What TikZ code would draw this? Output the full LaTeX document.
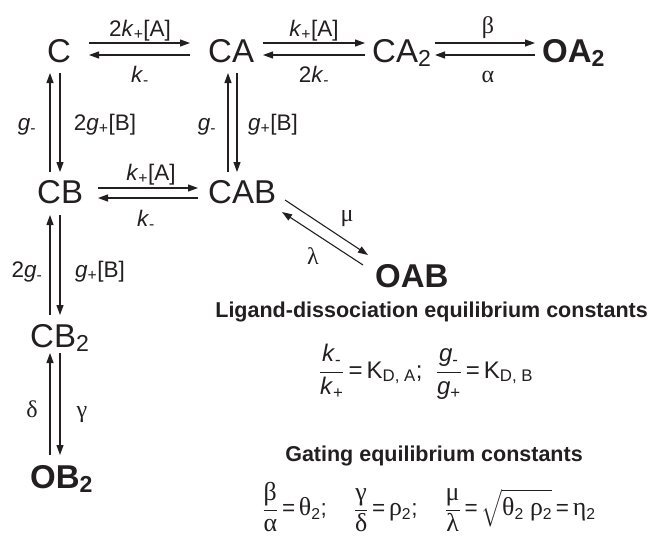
\RequirePackage{fix-cm}
\documentclass[tikz,border=0pt]{standalone}
\usepackage{amsmath}
\usepackage{fontspec}
\setmainfont{Liberation Sans}
\newfontfamily\grk{Liberation Serif}
\usetikzlibrary{arrows.meta}
\definecolor{ink}{HTML}{231F20}
\newcommand\kP{\textit{k}\textsubscript{+}}
\newcommand\kM{\textit{k}\textsubscript{-}}
\newcommand\gP{\textit{g}\textsubscript{+}}
\newcommand\gM{\textit{g}\textsubscript{-}}
\newcommand\gk[1]{{\grk\fontsize{1.15em}{1em}\selectfont #1}}
\begin{document}
\begin{tikzpicture}[x=1pt,y=-1pt,
  sp/.style={anchor=base west, inner sep=0pt, text=ink, font=\fontsize{33}{38}\selectfont},
  spb/.style={sp, font=\fontsize{33}{38}\selectfont\bfseries},
  rl/.style={anchor=base, inner sep=0pt, text=ink, font=\fontsize{22.5}{26}\selectfont},
  gl/.style={anchor=base, inner sep=0pt, text=ink, font=\fontsize{24}{28}\selectfont\grk},
  hd/.style={anchor=base, inner sep=0pt, text=ink, font=\fontsize{21.5}{25}\selectfont\bfseries},
  eq/.style={anchor=center, inner sep=0pt, text=ink, font=\fontsize{24}{28}\selectfont},
  arr/.style={draw=ink, line width=1.1pt, -{Triangle[length=10pt,width=7pt]}}]
\useasboundingbox (0,0) rectangle (653,536);
% species
\node[sp]  (C)   at (47,62)  {C};
\node[sp]  (CA)  at (208,62) {CA};
\node[sp]  (CA2) at (372,62) {CA\textsubscript{2}};
\node[spb] (OA2) at (542,62) {OA\textsubscript{2}};
\node[sp]  (CB)  at (37,203) {CB};
\node[sp]  (CAB) at (208,203) {CAB};
\node[spb] (OAB) at (375,287) {OAB};
\node[sp]  (CB2) at (30,347) {CB\textsubscript{2}};
\node[spb] (OB2) at (30,488) {OB\textsubscript{2}};
% horizontal pairs
\draw[arr] ([shift={(42,-19)}]C.base west) -- ([shift={(-18,-19)}]CA.base west);
\draw[arr] ([shift={(-18,-7)}]CA.base west) -- ([shift={(42,-7)}]C.base west);
\draw[arr] ([shift={(55,-19)}]CA.base west) -- ([shift={(-7,-19)}]CA2.base west);
\draw[arr] ([shift={(-7,-7)}]CA2.base west) -- ([shift={(55,-7)}]CA.base west);
\draw[arr] ([shift={(63,-19)}]CA2.base west) -- ([shift={(-7,-19)}]OA2.base west);
\draw[arr] ([shift={(-7,-7)}]OA2.base west) -- ([shift={(63,-7)}]CA2.base west);
\draw[arr] ([shift={(61,-15)}]CB.base west) -- ([shift={(-10,-15)}]CAB.base west);
\draw[arr] ([shift={(-10,-5)}]CAB.base west) -- ([shift={(61,-5)}]CB.base west);
% vertical pairs
\draw[arr] ([shift={(13,-31)}]CB.base west) -- ([shift={(3,11)}]C.base west);
\draw[arr] ([shift={(13,11)}]C.base west) -- ([shift={(23,-31)}]CB.base west);
\draw[arr] ([shift={(20,-31)}]CAB.base west) -- ([shift={(20,11)}]CA.base west);
\draw[arr] ([shift={(29,11)}]CA.base west) -- ([shift={(29,-31)}]CAB.base west);
\draw[arr] ([shift={(20,-32)}]CB2.base west) -- ([shift={(13,12)}]CB.base west);
\draw[arr] ([shift={(23,12)}]CB.base west) -- ([shift={(30,-32)}]CB2.base west);
\draw[arr] ([shift={(20,-33)}]OB2.base west) -- ([shift={(20,6)}]CB2.base west);
\draw[arr] ([shift={(30,6)}]CB2.base west) -- ([shift={(30,-33)}]OB2.base west);
% diagonal pair
\draw[arr] ([shift={(77,-3)}]CAB.base west) -- ([shift={(-7,-32)}]OAB.base west);
\draw[arr] ([shift={(-12,-22)}]OAB.base west) -- ([shift={(74,9)}]CAB.base west);
% rate labels
\node[rl] (l1) at (140,36) {2\kP[A]};
\node[rl] (l2) at (140,82) {\kM};
\node[rl] (l3) at (314,36) {\kP[A]};
\node[rl] (l4) at (314,82) {2\kM};
\node[gl] (l5) at (488,33) {β};
\node[gl] (l6) at (488,82) {α};
\node[rl] (l7) at (27,130) {\gM};
\node[rl] (l8) at (105,130) {2\gP[B]};
\node[rl] (l9) at (207,130) {\gM};
\node[rl] (l10) at (273,130) {\gP[B]};
\node[rl] (l11) at (151,180) {\kP[A]};
\node[rl] (l12) at (146,226) {\kM};
\node[gl] (l13) at (347,221) {μ};
\node[gl] (l14) at (313,264) {λ};
\node[rl] (l15) at (27,277) {2\gM};
\node[rl] (l16) at (100,277) {\gP[B]};
\node[gl] (l17) at (32,417) {δ};
\node[gl] (l18) at (82,417) {γ};
% equilibrium constants
\node[hd, anchor=base east] (h1) at (648,317) {Ligand-dissociation equilibrium constants};
\node[eq] (e1) at (426,372) {$\dfrac{\text{\kM}}{\text{\kP}}\text{\,=\,K\textsubscript{D, A}; \ }\dfrac{\text{\gM}}{\text{\gP}}\text{\,=\,K\textsubscript{D, B}}$};
\node[hd] (h2) at (434,461) {Gating equilibrium constants};
\node[eq, font=\fontsize{22.5}{26}\selectfont] (e2) at (429,507) {$\dfrac{\text{\gk{β}}}{\text{\gk{α}}}\text{\,=\,\gk{θ}\textsubscript{2};\hspace{1.2em}}\dfrac{\text{\gk{γ}}}{\text{\gk{δ}}}\text{\,=\,\gk{ρ}\textsubscript{2};\hspace{1.2em}}\dfrac{\text{\gk{μ}}}{\text{\gk{λ}}}\text{\,=\,}\sqrt{\text{\gk{θ}\textsubscript{2} \gk{ρ}\textsubscript{2}}}\text{\,=\,\gk{η}\textsubscript{2}}$};
\end{tikzpicture}
\end{document}
